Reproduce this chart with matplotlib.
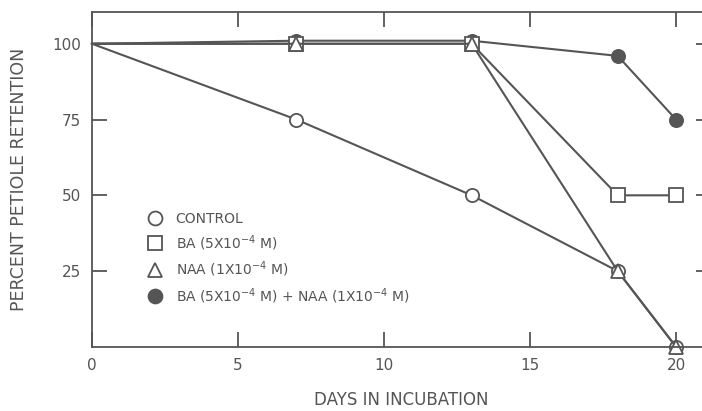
import matplotlib
matplotlib.use("Agg")
import matplotlib.pyplot as plt
from matplotlib.lines import Line2D

days = [0, 7, 13, 18, 20]
control = [100, 75, 50, 25, 0]
ba = [100, 100, 100, 50, 50]
naa = [100, 100, 100, 25, 0]
ba_naa = [100, 101, 101, 96, 75]

labels = ["CONTROL",
          "BA (5X10$^{-4}$ M)",
          "NAA (1X10$^{-4}$ M)",
          "BA (5X10$^{-4}$ M) + NAA (1X10$^{-4}$ M)"]

xticks = [0, 5, 10, 15, 20]
yticks = [25, 50, 75, 100]

ink = "#555555"
plt.rcParams['font.family'] = ['DejaVu Sans']

fig = plt.figure(figsize=(7.02, 4.11), dpi=100)
ax = fig.add_axes([0.131, 0.156, 0.882, 0.815])

# no marker at day 0, lines just start there
mk = [1, 2, 3, 4]
common = dict(color=ink, lw=1.5, markersize=9.5, markeredgewidth=1.3,
              markeredgecolor=ink, markevery=mk, clip_on=False)
ax.plot(days, ba_naa, marker='o', markerfacecolor=ink, **common)
ax.plot(days, ba, marker='s', markerfacecolor='white', **common)
ax.plot(days, control, marker='o', markerfacecolor='white', **common)
ax.plot(days, naa, marker='^', markerfacecolor='white', **common)

ax.set_xlim(0, 21.2)
ax.set_ylim(0, 110.5)
ax.set_xticks(xticks)
ax.set_yticks(yticks)
ax.tick_params(direction='in', length=11, width=1.3, color=ink, labelcolor=ink,
               labelsize=11, top=True, right=True, pad=8)
for s in ax.spines.values():
    s.set_color(ink)
    s.set_linewidth(1.3)
ax.spines['right'].set_visible(False)

ax.set_xlabel("DAYS IN INCUBATION", fontsize=12, color=ink, labelpad=13)
ax.set_ylabel("PERCENT PETIOLE RETENTION", fontsize=12.5, color=ink, labelpad=17)

mstyle = dict(ls='none', markersize=10, markeredgecolor=ink, markeredgewidth=1.3)
hs = [Line2D([], [], marker='o', markerfacecolor='white', **mstyle),
      Line2D([], [], marker='s', markerfacecolor='white', **mstyle),
      Line2D([], [], marker='^', markerfacecolor='white', **mstyle),
      Line2D([], [], marker='o', markerfacecolor=ink, **mstyle)]
ax.legend(hs, labels, loc='upper left', bbox_to_anchor=(0.07, 0.44), frameon=False,
          fontsize=10, handlelength=1.0, handletextpad=1.0, labelspacing=0.5,
          labelcolor=ink)

fig.savefig("out.png", dpi=100)
